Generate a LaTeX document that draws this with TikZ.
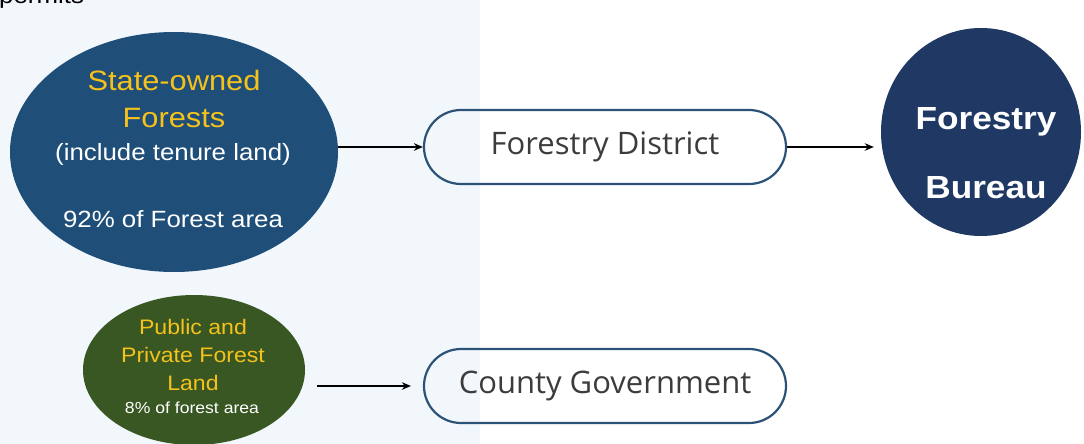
\documentclass[tikz,border=0pt]{standalone}
\usepackage{fontspec}
\setmainfont{Liberation Sans}
\newfontfamily\arialw[FakeStretch=1.1]{Liberation Sans}
\newfontfamily\opensans{Open Sans}
\usetikzlibrary{arrows.meta,shapes.geometric,shapes.misc}
\definecolor{panel}{HTML}{F2F7FC}
\definecolor{stateblue}{HTML}{1F4E79}
\definecolor{bureaublue}{HTML}{1F3864}
\definecolor{forestgreen}{HTML}{385723}
\definecolor{gold}{HTML}{F5C21B}
\definecolor{boxline}{HTML}{2C5278}
\definecolor{boxtext}{HTML}{3C3C3C}
\tikzset{
  x=1pt, y=-1pt,
  blob/.style={ellipse, inner sep=0pt, draw=none},
  pill/.style={rounded rectangle, draw=boxline, line width=2.2pt, minimum width=362pt, minimum height=74pt, inner sep=0pt, font=\opensans\fontsize{31}{37}\selectfont, text=boxtext},
  txt/.style={inner sep=0pt, align=center},
  conn/.style={line width=1.9pt, -{Stealth[length=9pt,width=7.5pt]}},
}
\begin{document}
\begin{tikzpicture}
\clip (0,0) rectangle (1084,444);
\useasboundingbox (0,0) rectangle (1084,444);
\fill[white] (0,0) rectangle (1084,444);
\fill[panel] (0,0) rectangle (480,444);
\node[txt, anchor=base west, font=\arialw\fontsize{23.5}{28}\selectfont] (perm) at (-1,3.5) {permits};

% State-owned forests
\node[blob, fill=stateblue, minimum width=328pt, minimum height=240pt] (se) at (174,152) {};
\node[txt, text=gold, font=\arialw\fontsize{28}{34}\selectfont] (se1) at (174,80) {State-owned};
\node[txt, text=gold, font=\arialw\fontsize{28}{34}\selectfont] (se2) at (174,118) {Forests};
\node[txt, text=white, font=\arialw\fontsize{23.5}{28}\selectfont] (se3) at (173,154) {(include tenure land)};
\node[txt, text=white, font=\arialw\fontsize{23.5}{28}\selectfont] (se4) at (173,219) {92\% of Forest area};

% Forestry district
\node[pill] (fd) at (605,147) {Forestry District};

% Forestry Bureau
\node[blob, fill=bureaublue, minimum width=200pt, minimum height=208pt] (fb) at (981,132) {};
\node[txt, text=white, font=\arialw\bfseries\fontsize{32}{38}\selectfont] (fb1) at (986,122) {Forestry};
\node[txt, text=white, font=\arialw\bfseries\fontsize{32}{38}\selectfont] (fb2) at (986,188) {Bureau};

% Public and private
\node[blob, fill=forestgreen, minimum width=222pt, minimum height=150pt] (pp) at (194,370) {};
\node[txt, text=gold, font=\arialw\fontsize{21}{25}\selectfont] (pp1) at (193,327) {Public and};
\node[txt, text=gold, font=\arialw\fontsize{21}{25}\selectfont] (pp2) at (193,355) {Private Forest};
\node[txt, text=gold, font=\arialw\fontsize{21}{25}\selectfont] (pp3) at (193,383) {Land};
\node[txt, text=white, font=\arialw\fontsize{16}{19}\selectfont] (pp4) at (192,408) {8\% of forest area};

% County government
\node[pill] (cg) at (605,386) {County Government};

% connectors
\draw[conn] (se.east |- fd.west) -- (fd.west);
\draw[conn, shorten >=7pt] (fd.east) -- (fb.west |- fd.east);
\draw[conn, shorten <=12pt, shorten >=12pt] (pp.east |- cg.west) -- (cg.west);
\end{tikzpicture}
\end{document}
